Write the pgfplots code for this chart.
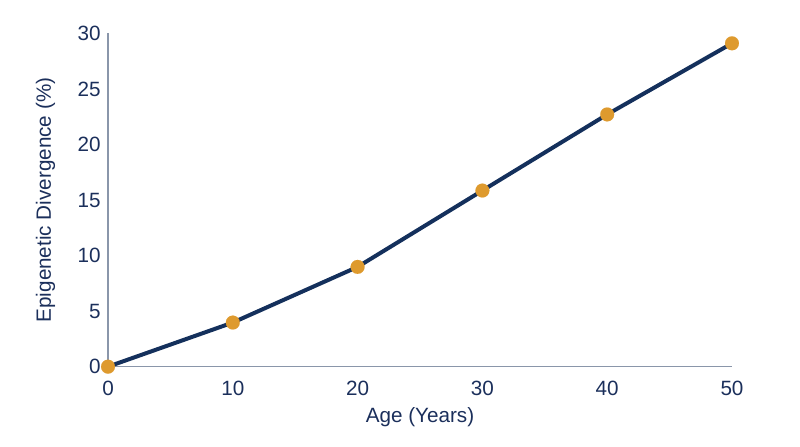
\documentclass[border=0pt]{standalone}
\usepackage{pgfplots}
\pgfplotsset{compat=1.18}
\usepackage{fontspec}
\setmainfont{Liberation Sans}
\definecolor{navy}{HTML}{14305C}
\definecolor{gold}{HTML}{DE9A2E}
\definecolor{axisgray}{HTML}{8A96AA}
\definecolor{textnavy}{HTML}{1B2F5B}

\begin{document}
\begin{tikzpicture}
\path[use as bounding box] (-81pt,-60pt) rectangle (519pt,275pt);
\begin{axis}[
    at={(0,0)}, anchor=south west,
    scale only axis,
    width=468pt, height=250pt,
    xmin=0, xmax=50, ymin=0, ymax=30,
    xtick={0,10,...,50},
    ytick={0,5,...,30},
    axis x line*=bottom,
    axis y line*=left,
    axis line style={axisgray, line width=1pt, -},
    major tick length=0pt,
    tick style={draw=none},
    clip=false,
    /pgf/number format/assume math mode=true,
    ticklabel style={font=\fontsize{15.5}{17}\selectfont, text=textnavy},
    xticklabel style={yshift=-7pt},
    yticklabel style={xshift=-2pt},
    label style={font=\fontsize{15.5}{17}\selectfont, text=textnavy},
    xlabel={Age (Years)},
    ylabel={Epigenetic Divergence (\%)},
    xlabel style={yshift=-2pt},
    ylabel style={yshift=10pt},
]
\addplot[navy, line width=3pt, mark=*, mark size=5.2pt,
    mark options={fill=gold, draw=gold, line width=0.1pt}]
coordinates {(0,0) (10,3.97) (20,8.98) (30,15.85) (40,22.7) (50,29.1)};
\end{axis}
\end{tikzpicture}
\end{document}
